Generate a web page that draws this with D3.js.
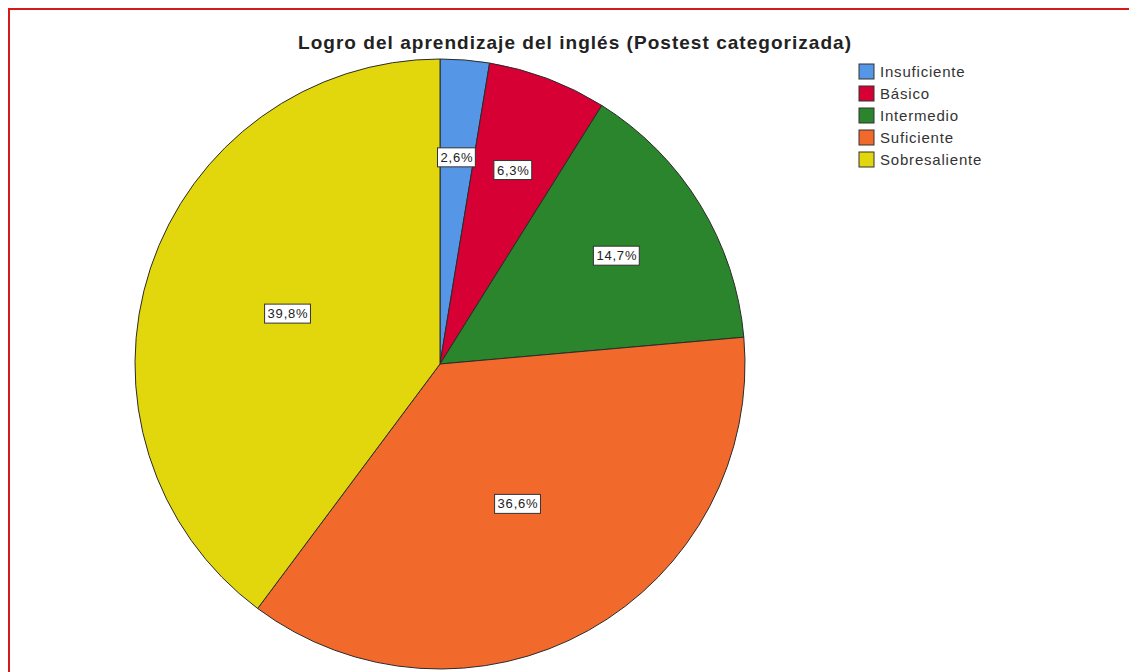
<!DOCTYPE html>
<html>
<head>
<meta charset="utf-8">
<script src="https://cdn.jsdelivr.net/npm/d3@7"></script>
<style>
  body { margin: 0; background: #fff; }
  svg { display: block; font-family: "Liberation Sans", Arial, sans-serif; }
</style>
</head>
<body>
<svg id="chart" width="1129" height="672"></svg>
<script>
var width = 1129;
var height = 672;

// data
var categories = ["Insuficiente", "Básico", "Intermedio", "Suficiente", "Sobresaliente"];
var percents = [2.6, 6.3, 14.7, 36.6, 39.8];
var colors = ["#5597e6", "#d70035", "#2a852c", "#f2692c", "#e2d70c"];
var title = "Logro del aprendizaje del inglés (Postest categorizada)";

var svg = d3.select("#chart");

// red frame round the whole output
svg.append("rect")
    .attr("x", 9)
    .attr("y", 9)
    .attr("width", width + 20)
    .attr("height", height + 20)
    .attr("fill", "none")
    .attr("stroke", "#d41a1a")
    .attr("stroke-width", 2);

svg.append("text")
    .attr("x", 298)
    .attr("y", 49)
    .attr("font-size", "19px")
    .attr("font-weight", "bold")
    .attr("fill", "#222")
    .attr("textLength", 553)
    .attr("lengthAdjust", "spacing")
    .text(title);

var cx = 440, cy = 364, radius = 305;

var data = categories.map(function(c, i) {
    return { name: c, value: percents[i], color: colors[i] };
});

var pie = d3.pie()
    .sort(null)
    .value(function(d) { return d.value; });

var arc = d3.arc().innerRadius(0).outerRadius(radius);

var g = svg.append("g").attr("transform", "translate(" + cx + "," + cy + ")");

var slices = pie(data);

g.selectAll("path")
    .data(slices)
    .enter().append("path")
    .attr("d", arc)
    .attr("fill", function(d) { return d.data.color; })
    .attr("stroke", "#2b2b2b")
    .attr("stroke-width", 1);

// labels: small slices sit further out, like SPSS does
function labelPos(d) {
    var f = d.data.value / 100;
    var r = radius * (f > 0.3 ? 0.525 : 0.68);
    var a = (d.startAngle + d.endAngle) / 2;
    return [r * Math.sin(a), -r * Math.cos(a)];
}

var labels = g.selectAll("g.lbl")
    .data(slices)
    .enter().append("g")
    .attr("class", "lbl")
    .attr("transform", function(d) {
        var p = labelPos(d);
        return "translate(" + p[0] + "," + p[1] + ")";
    });

labels.append("text")
    .attr("text-anchor", "middle")
    .attr("dy", "0.35em")
    .attr("font-size", "13px")
    .attr("letter-spacing", "0.8px")
    .attr("fill", "#222")
    .text(function(d) { return d.data.value.toFixed(1).replace(".", ",") + "%"; });

labels.each(function() {
    var sel = d3.select(this);
    var bb = sel.select("text").node().getBBox();
    sel.insert("rect", "text")
        .attr("x", bb.x - 3)
        .attr("y", bb.y - 2)
        .attr("width", bb.width + 5)
        .attr("height", bb.height + 4)
        .attr("fill", "#fff")
        .attr("stroke", "#333")
        .attr("stroke-width", 1);
});

// legend
var legend = svg.append("g").attr("transform", "translate(859,64)");

var items = legend.selectAll("g")
    .data(data)
    .enter().append("g")
    .attr("transform", function(d, i) { return "translate(0," + (i * 22) + ")"; });

items.append("rect")
    .attr("width", 15)
    .attr("height", 15)
    .attr("fill", function(d) { return d.color; })
    .attr("stroke", "#333")
    .attr("stroke-width", 1);

items.append("text")
    .attr("x", 21)
    .attr("y", 13)
    .attr("font-size", "15px")
    .attr("letter-spacing", "0.8px")
    .attr("fill", "#333")
    .text(function(d) { return d.name; });
</script>
</body>
</html>
